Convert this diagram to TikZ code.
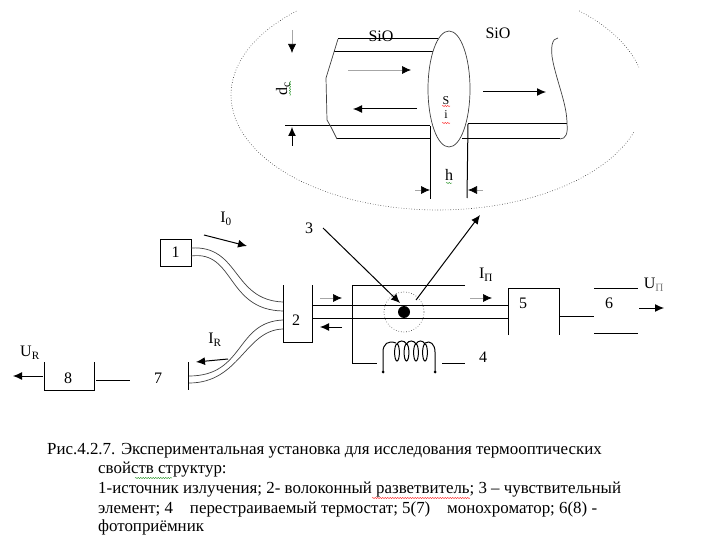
\documentclass[tikz,border=0pt]{standalone}
\usepackage{fontspec}
\setmainfont{Liberation Serif}
\usetikzlibrary{arrows.meta,decorations.pathmorphing}
\tikzset{
  wire/.style={line width=1pt},
  fibre/.style={line width=0.7pt,black!75},
  ray/.style={line width=1pt,-{Latex[black,length=9pt,width=8pt]}},
  pale/.style={gray!70,line width=0.7pt,-{Latex[black,length=9pt,width=8pt]}},
  halo/.style={line width=0.6pt,dotted,black!80},
  lbl/.style={font=\fontsize{16}{18}\selectfont,inner sep=0pt},
  capt/.style={font=\fontsize{16.9}{18}\selectfont,inner sep=0pt,anchor=west},
  squiggle/.style={decorate,decoration={snake,amplitude=0.5pt,segment length=2.5pt},line width=0.4pt}
}
\begin{document}
\begin{tikzpicture}[x=1pt,y=-1pt]
    \useasboundingbox (0,0) rectangle (720,540);
    % upper enlarged view
    \draw[halo] plot[domain=-47:-14,samples=30] ({438+207*cos(\x)},{95+115*sin(\x)});
    \draw[halo] plot[domain=19:227,samples=90] ({438+207*cos(\x)},{95+115*sin(\x)});
    \coordinate (t1) at (338,39);
    \coordinate (t2) at (438,39);
    \coordinate (t3) at (334,52);
    \coordinate (t4) at (433,52);
    \coordinate (t5) at (285,126);
    \coordinate (t6) at (430,126);
    \coordinate (t7) at (337,139);
    \coordinate (t8) at (431,139);
    \coordinate (r1) at (468,124);
    \coordinate (r2) at (567,124);
    \coordinate (r3) at (462,139);
    \coordinate (r4) at (560,139);
    \coordinate (r5) at (558,38);
    \draw[wire] (t1) -- (t2);
    \draw[wire] (t3) -- (t4);
    \draw[wire] (t5) -- (t6);
    \draw[wire] (t7) -- (t8);
    \draw[wire] (r1) -- (r2);
    \draw[wire] (r3) -- (r4);
    \draw[fibre] (t1) -- (t3) -- (326,78) -- (327,120) -- (331,127) -- (t7);
    \draw[fibre] (r5) .. controls (552,38) and (550,48) .. (553,62)
        .. controls (558,85) and (567,105) .. (r2)
        .. controls (568,133) and (566,139) .. (r4);
    \draw[fibre,fill=white] (449,89) ellipse [x radius=21,y radius=58];
    \coordinate (h1) at (430,199);
    \coordinate (h2) at (467,198);
    \draw[wire] (t6) -- (h1);
    \draw[wire] (r1) -- (h2);
    \draw[pale] (292,30) -- (292,53);
    \draw[ray] (292,146) -- (292,127);
    \draw[pale] (348,70) -- (411,70);
    \draw[ray] (417,109) -- (353,109);
    \draw[ray] (483,92) -- (546,92);
    \draw[pale] (415,190) -- (430,190);
    \draw[pale] (483,190) -- (468,190);
    \node[lbl] (sio1) at (381,36) {SiO};
    \node[lbl] (sio2) at (498,33) {SiO};
    \node[lbl,rotate=90] (dc) at (283,89) {d\textsubscript{c}};
    \node[lbl,font=\fontsize{12}{13}\selectfont,align=center] (si) at (446,108) {S\\[1pt]i};
    \node[lbl] (h) at (449,175) {h};
    \draw[squiggle,green!50!black] (446,183) -- (452,183);
    \draw[squiggle,green!50!black] (290,81) -- (290,96);
    \draw[squiggle,red] (442,106) -- (450,106);
    \draw[squiggle,red] (442,123) -- (450,123);
    % source and splitter
    \node[draw,wire,minimum width=31pt,minimum height=27pt,inner sep=0pt,font=\fontsize{16}{18}\selectfont] (b1) at (175.5,252.5) {1};
    \coordinate (s1) at (283,285);
    \coordinate (s2) at (283,342);
    \coordinate (s3) at (312,342);
    \coordinate (s4) at (312,285);
    \draw[wire] (s1) -- (s2) -- (s3) -- (s4);
    \node[lbl] (b2) at (296,320) {2};
    \draw[fibre] (191,248) .. controls (240,245) and (232,300) .. (283,302);
    \draw[fibre] (191,256) .. controls (235,250) and (226,310) .. (283,311);
    \draw[fibre] (283,320) .. controls (235,322) and (245,376) .. (189,376);
    \draw[fibre] (283,329) .. controls (245,330) and (240,383) .. (189,383);
    \node[lbl] (i0) at (226,219) {I\textsubscript{0}};
    \draw[ray] (204,235) -- (247,246);
    \node[lbl] (ir) at (215,340) {I\textsubscript{R}};
    \draw[ray] (228,359) -- (196,362);
    % left detector
    \coordinate (m1) at (188,362);
    \coordinate (m2) at (188,390);
    \draw[wire] (m1) -- (m2);
    \node[lbl] (b7) at (158,378) {7};
    \coordinate (d1) at (44,362);
    \coordinate (d2) at (44,390);
    \coordinate (d3) at (94,390);
    \coordinate (d4) at (94,362);
    \draw[wire] (d1) -- (d2) -- (d3) -- (d4);
    \node[lbl] (b8) at (68,378) {8};
    \coordinate (l1) at (96,380);
    \coordinate (l2) at (130,380);
    \draw[wire] (l1) -- (l2);
    \draw[ray] (43,376) -- (13,376);
    \node[lbl] (ur) at (30,353) {U\textsubscript{R}};
    % sensing element with thermostat
    \coordinate (f1) at (312,305);
    \coordinate (f2) at (508,305);
    \coordinate (f3) at (312,318);
    \coordinate (f4) at (508,318);
    \draw[wire] (f1) -- (f2);
    \draw[wire] (f3) -- (f4);
    \draw[pale] (320,298) -- (342,298);
    \draw[ray] (342,327) -- (320,327);
    \draw[wire] (465,285) -- (352,285) -- (352,363) -- (377,363);
    \draw[wire] (442,363) -- (465,363);
    \draw[halo] (404,312) circle (20);
    \fill (404,312) circle (6);
    \node[lbl] (n3) at (309,228) {3};
    \node[lbl] (n4) at (483,357) {4};
    \draw[ray] (323,228) -- (400,303);
    \draw[ray] (416,300) -- (480,215);
    \node[lbl] (ip) at (486,275) {I\textsubscript{П}};
    \draw[pale] (470,298) -- (492,298);
    % coil
    \draw[line width=1pt] (383,372) -- (383,352) .. controls (383,344) and (388,340) .. (396,343);
    \draw[line width=1pt] (435,372) -- (435,352) .. controls (435,344) and (430,340) .. (425,343);
    \foreach \i in {397,406.5,416,425}{
      \draw[line width=1pt] (\i,352.5) ellipse [x radius=2.4,y radius=8.5];
    }
    \foreach \i/\j in {397/406.5,406.5/416,416/425}{
      \draw[line width=1pt] (\i,344) .. controls (\i+2,340) and (\j-2,340) .. (\j,344);
    }
    \fill (383,372) circle (1.5);
    \fill (435,372) circle (1.5);
    % right detector
    \coordinate (e1) at (508,335);
    \coordinate (e2) at (508,288);
    \coordinate (e3) at (559,288);
    \coordinate (e4) at (559,335);
    \draw[wire] (e1) -- (e2) -- (e3) -- (e4);
    \node[lbl] (b5) at (523,303) {5};
    \coordinate (g1) at (560,316);
    \coordinate (g2) at (594,316);
    \draw[wire] (g1) -- (g2);
    \coordinate (p1) at (594,288);
    \coordinate (p2) at (638,288);
    \coordinate (p3) at (594,333);
    \coordinate (p4) at (638,333);
    \draw[wire] (p1) -- (p2);
    \draw[wire] (p3) -- (p4);
    \node[lbl] (b6) at (609,303) {6};
    \draw[ray] (639,308) -- (664,308);
    \node[lbl] (up) at (654,285) {U\textsubscript{\textcolor{gray}{П}}};
    % caption
    \node[capt] (c1) at (47,451) {Рис.4.2.7. Экспериментальная установка для исследования термооптических};
    \node[capt] (c2) at (98,470) {свойств структур:};
    \node[capt] (c3) at (98,490) {1-источник излучения; 2- волоконный разветвитель; 3 -- чувствительный};
    \node[capt] (c4) at (98,509) {элемент; 4\quad перестраиваемый термостат; 5(7)\quad монохроматор; 6(8) -};
    \node[capt] (c5) at (98,527) {фотоприёмник};
    \draw[squiggle,green!50!black] (135,478) -- (172,478);
    \draw[squiggle,red] (372,498) -- (470,498);
\end{tikzpicture}
\end{document}
